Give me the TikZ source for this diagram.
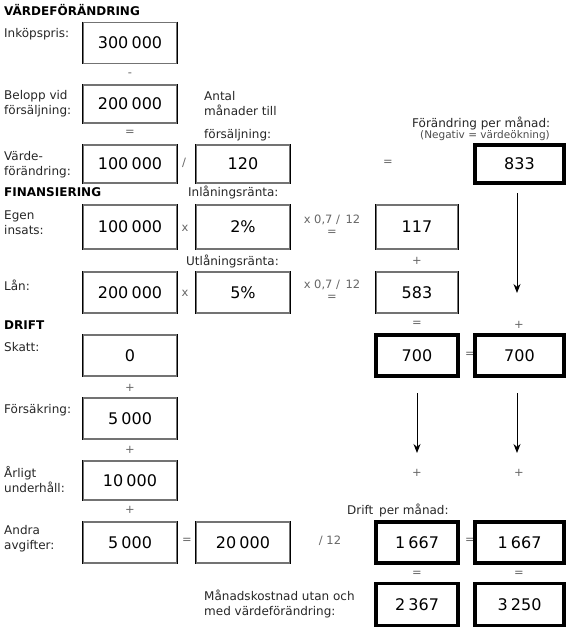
\documentclass[tikz,border=0pt]{standalone}
\usepackage{fontspec}
\setmainfont{DejaVu Sans}
\usetikzlibrary{arrows.meta}
\newcommand\nsp{\hspace{0.2em}}
\begin{document}
\begin{tikzpicture}[x=1pt,y=-1pt,
  lbl/.style={anchor=west,inner sep=0pt,font=\fontsize{12}{15}\selectfont,text=black!85,align=left},
  head/.style={anchor=west,inner sep=0pt,font=\fontsize{12}{14}\selectfont\bfseries,text=black},
  op/.style={inner sep=0pt,font=\fontsize{11.5}{12}\selectfont,text=black!60},
  small/.style={inner sep=0pt,font=\fontsize{10.5}{12}\selectfont,text=black!70},
  sideline/.style={draw=black,line width=1pt},
  thinbox/.style={draw=black!55,line width=1.8pt,minimum height=41pt,inner sep=0pt,
     font=\fontsize{16}{17}\selectfont,
     append after command={(\tikzlastnode.north west) edge[sideline] (\tikzlastnode.south west)
                           (\tikzlastnode.north east) edge[sideline] (\tikzlastnode.south east)}},
  thickbox/.style={draw=black,line width=3.2pt,minimum height=41pt,inner sep=0pt,
     font=\fontsize{16}{17}\selectfont},
  colA/.style={minimum width=94pt},
  colB/.style={minimum width=94pt},
  colC/.style={minimum width=82pt},
  colD/.style={minimum width=89pt},
  arr/.style={draw=black,line width=1pt,-{Stealth[length=9pt,width=7pt]}}
]
\useasboundingbox (0,0) rectangle (571,632);

% ---- VÄRDEFÖRÄNDRING
\node[head] (h1) at (4,10) {VÄRDEFÖRÄNDRING};
\node[lbl] (l1) at (4,34) {Inköpspris:};
\node[thinbox,colA] (b300) at (130,43) {300\nsp000};
\node[op] (o1) at (130,75) {-};
\node[lbl] (l2) at (4,104) {Belopp vid\\försäljning:};
\node[thinbox,colA,minimum height=38pt] (b200) at (130,104) {200\nsp000};
\node[lbl] (l3) at (204,104) {Antal\\månader till};
\node[lbl] (l3b) at (204,135) {försäljning:};
\node[op] (o2) at (130,133) {=};
\node[lbl] (l4) at (4,165) {Värde-\\förändring:};
\node[thinbox,colA,minimum height=38pt] (b100) at (130,164) {100\nsp000};
\node[op] (o3) at (184,163) {/};
\node[thinbox,colB,minimum height=38pt] (b120) at (243,164) {120};
\node[lbl] (l5) at (412,123) {Förändring per månad:};
\node[small] (l5b) at (485,136) {(Negativ = värdeökning)};
\node[op] (o4) at (388,163) {=};
\node[thickbox,colD,minimum height=38pt] (b833) at (519.5,164) {833};

% ---- FINANSIERING
\node[head] (h2) at (4,192) {FINANSIERING};
\node[lbl] (l6) at (188,192) {Inlåningsränta:};
\node[lbl] (l7) at (4,223) {Egen\\insats:};
\node[thinbox,colA,minimum height=44pt] (begen) at (130,227) {100\nsp000};
\node[op] (o5) at (185,228) {x};
\node[thinbox,colB,minimum height=44pt] (b2p) at (243,227) {2\%};
\node[op] (o6) at (332,220) {x 0,7 /\, 12};
\node[op] (o7) at (332,233) {=};
\node[thinbox,colC,minimum height=44pt] (b117) at (417,227) {117};
\node[lbl] (l8) at (186,261) {Utlåningsränta:};
\node[op] (o8) at (417,261) {+};
\node[lbl] (l9) at (4,285) {Lån:};
\node[thinbox,colA] (blan) at (130,292.5) {200\nsp000};
\node[op] (o9) at (185,293) {x};
\node[thinbox,colB] (b5p) at (243,292.5) {5\%};
\node[op] (o10) at (332,285) {x 0,7 /\, 12};
\node[op] (o11) at (332,298) {=};
\node[thinbox,colC] (b583) at (417,292.5) {583};
\coordinate (a1s) at (517,193);
\coordinate (a1e) at (517,293);
\draw[arr] (a1s) -- (a1e);

% ---- DRIFT
\node[head] (h3) at (4,325) {DRIFT};
\node[op] (o12) at (417,324) {=};
\node[op] (o13) at (519,325) {+};
\node[lbl] (l10) at (4,347) {Skatt:};
\node[thinbox,colA] (bskatt) at (130,355.5) {0};
\node[thickbox,colC] (b700a) at (417,355.5) {700};
\node[op] (o14) at (470,355) {=};
\node[thickbox,colD] (b700b) at (519.5,355.5) {700};
\node[op] (o15) at (130,388) {+};
\coordinate (a2s) at (417,393);
\coordinate (a2e) at (417,453);
\coordinate (a3s) at (517,393);
\coordinate (a3e) at (517,453);
\draw[arr] (a2s) -- (a2e);
\draw[arr] (a3s) -- (a3e);
\node[lbl] (l11) at (4,410) {Försäkring:};
\node[thinbox,colA] (bfors) at (130,418.5) {5\nsp000};
\node[op] (o16) at (130,450) {+};
\node[op] (o17) at (417,473) {+};
\node[op] (o18) at (519,473) {+};
\node[lbl] (l12) at (4,480) {Årligt\\underhåll:};
\node[thinbox,colA,minimum height=39pt] (bunder) at (130,480.5) {10\nsp000};
\node[op] (o19) at (130,510) {+};
\node[lbl] (l13) at (347,510) {Drift\, per månad:};
\node[lbl] (l14) at (4,539) {Andra\\avgifter:};
\node[thinbox,colA] (bandra) at (130,542.5) {5\nsp000};
\node[op] (o20) at (187,541) {=};
\node[thinbox,colB] (b20k) at (243,542.5) {20\nsp000};
\node[op] (o21) at (330,541) {/ 12};
\node[thickbox,colC] (b1667a) at (417,542.5) {1\nsp667};
\node[op] (o22) at (470,541) {=};
\node[thickbox,colD] (b1667b) at (519.5,542.5) {1\nsp667};
\node[op] (o23) at (417,574) {=};
\node[op] (o24) at (519,574) {=};
\node[lbl] (l15) at (204,604) {Månadskostnad utan och\\med värdeförändring:};
\node[thickbox,colC,minimum height=42pt] (b2367) at (417,604.5) {2\nsp367};
\node[thickbox,colD,minimum height=42pt] (b3250) at (519.5,604.5) {3\nsp250};
\end{tikzpicture}
\end{document}
